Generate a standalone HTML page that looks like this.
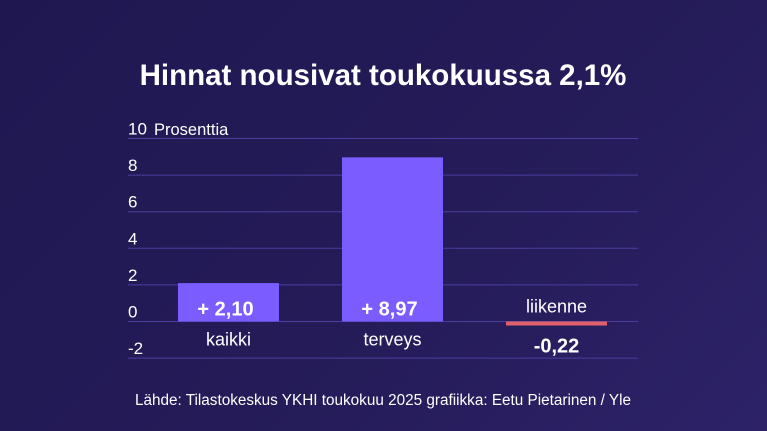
<!DOCTYPE html>
<html><head><meta charset="utf-8"><style>
html,body{margin:0;padding:0;width:767px;height:431px;overflow:hidden;}
body{background:linear-gradient(135deg,#1f1850 0%,#241b58 55%,#2d2268 100%);font-family:"Liberation Sans",sans-serif;}
svg{display:block}
</style></head><body>
<svg id="chart" width="767" height="431">
<text x="383" y="85" text-anchor="middle" fill="#fff" font-size="29.5" font-weight="bold">Hinnat nousivat toukokuussa 2,1%</text>
<text x="154" y="135" fill="#fff" font-size="16.5">Prosenttia</text>
<text x="383" y="405" text-anchor="middle" fill="#fff" font-size="15.3">Lähde: Tilastokeskus YKHI toukokuu 2025 grafiikka: Eetu Pietarinen / Yle</text>
<g id="grid"></g><g id="bars"></g>
</svg>
<script>
const categories=["kaikki","terveys","liikenne"];
const values=[2.10,8.97,-0.22];
const valueLabels=["+ 2,10","+ 8,97","-0,22"];
const ticks=[-2,0,2,4,6,8,10];
const NS="http://www.w3.org/2000/svg";
const y=v=>321.5-v*18.3;
const xStart=c=>178+c*164;
const bw=101;
function mk(t,a,p){const e=document.createElementNS(NS,t);for(const k in a)e.setAttribute(k,a[k]);p.appendChild(e);return e;}
const grid=document.getElementById('grid'),bars=document.getElementById('bars');
ticks.forEach(t=>{
 const l=mk('line',{x1:128,x2:638,y1:y(t),y2:y(t),stroke:'#4a3ea0','stroke-width':1},grid);
 
 
 const tx=mk('text',{x:128,y:y(t)-4,fill:'#fff','font-size':17},grid);
 tx.textContent=t;
 
 
});
categories.forEach((c,i)=>{
 const v=values[i],x=xStart(i);
 const neg=v<0;
 const r=mk('rect',{x:x,y:Math.min(y(v),y(0)),width:bw,height:Math.max(Math.abs(y(v)-y(0)),1),fill:neg?'#e0606a':'#7b5cff'},bars);
 
 
 const cl=mk('text',{x:x+bw/2,y:neg?y(0)-9:y(0)+24,'text-anchor':'middle',fill:'#fff','font-size':18},bars);
 cl.textContent=c;
 
 
 const vl=mk('text',{x:neg?x+bw/2:x+bw/2-3,y:neg?y(0)+31:y(0)-6,'text-anchor':'middle',fill:'#fff','font-size':20,'font-weight':'bold'},bars);
 vl.textContent=valueLabels[i];
 
 
});
</script>
</body></html>
